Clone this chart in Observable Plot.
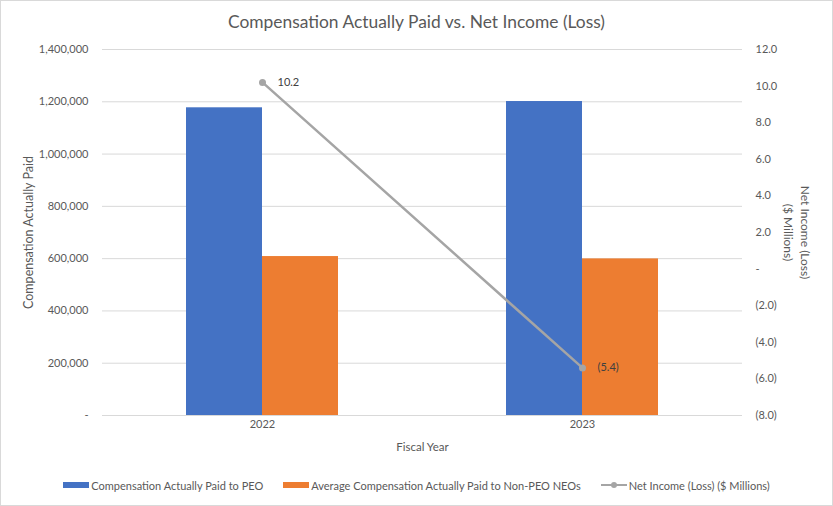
<!DOCTYPE html>
<html><head><meta charset="utf-8">
<script src="https://cdn.jsdelivr.net/npm/d3@7"></script>
<script src="https://cdn.jsdelivr.net/npm/@observablehq/plot@0.6"></script>
<style>
body{margin:0;background:#fff;}
#wrap{position:relative;width:833px;height:506px;font-family:Lato,sans-serif;color:#595959;overflow:hidden;background:#fff;}
#frame{position:absolute;left:0;top:0;width:833px;height:506px;box-sizing:border-box;border:1px solid #d9d9d9;pointer-events:none;}
#title{height:40px;line-height:44px;text-align:center;font-size:17.4px;}
#chart{height:430px;}
#chart svg{display:block;}
#legend{height:30px;display:flex;justify-content:center;align-items:center;gap:20px;font-size:11px;}
.item{display:flex;align-items:center;}
.sw{display:inline-block;width:26px;height:6px;margin-right:2px;}
.ln{position:relative;display:inline-block;width:26px;height:6px;margin-right:2px;}
.ln::before{content:"";position:absolute;left:0;right:0;top:2px;height:2px;background:#a5a5a5;}
.ln::after{content:"";position:absolute;left:10px;top:0;width:6px;height:6px;border-radius:50%;background:#a5a5a5;}
</style></head>
<body>
<div id="wrap">
  <div id="title">Compensation Actually Paid vs. Net Income (Loss)</div>
  <div id="chart"></div>
  <div id="legend"></div>
  <div id="frame"></div>
</div>
<script>
const years = ["2022", "2023"];
const peoComp = [1177000, 1201000];
const neoComp = [608000, 599000];
const netIncome = [10.2, -5.4];
const leftTicks = [0, 200000, 400000, 600000, 800000, 1000000, 1200000, 1400000];
const rightTicks = [-8, -6, -4, -2, 0, 2, 4, 6, 8, 10, 12];
const seriesNames = ["Compensation Actually Paid to PEO", "Average Compensation Actually Paid to Non-PEO NEOs", "Net Income (Loss) ($ Millions)"];
const colors = ["#4472c4", "#ed7d31", "#a5a5a5"];

const leftMax = leftTicks[leftTicks.length - 1];
const rMin = rightTicks[0], rMax = rightTicks[rightTicks.length - 1];
const toLeft = v => (v - rMin) / (rMax - rMin) * leftMax;
const fmtLeft = v => v === 0 ? "-" : d3.format(",")(v);
const fmtRight = v => v === 0 ? "-" : v < 0 ? `(${Math.abs(v).toFixed(1)})` : v.toFixed(1);
const rightByLeft = new Map(rightTicks.map(v => [Math.round(toLeft(v)), fmtRight(v)]));

const rows = years.map((y, i) => ({year: y, peo: peoComp[i], neo: neoComp[i], ni: netIncome[i]}));

const chart = Plot.plot({
  width: 833, height: 430,
  marginTop: 9, marginBottom: 55, marginLeft: 102, marginRight: 91,
  style: {fontFamily: "Lato, sans-serif", fontSize: "11px", color: "#595959", background: "transparent", overflow: "visible"},
  x: {type: "band", domain: years, padding: 0, label: null},
  y: {domain: [0, leftMax], label: null},
  marks: [
    Plot.ruleY(leftTicks, {stroke: "#d9d9d9", strokeWidth: 1}),
    Plot.barY(rows, {x: "year", y: "peo", fill: colors[0], insetLeft: 84, insetRight: 160}),
    Plot.barY(rows, {x: "year", y: "neo", fill: colors[1], insetLeft: 160, insetRight: 84}),
    Plot.line(rows, {x: "year", y: d => toLeft(d.ni), stroke: colors[2], strokeWidth: 2.5}),
    Plot.dot(rows, {x: "year", y: d => toLeft(d.ni), r: 3.5, fill: colors[2]}),
    Plot.text(rows, {x: "year", y: d => toLeft(d.ni), text: d => fmtRight(d.ni), textAnchor: "start", dx: 15, fill: "#404040", fontSize: 11}),
    Plot.axisY(leftTicks, {anchor: "left", tickSize: 0, tickPadding: 14, tickFormat: fmtLeft, label: null}),
    Plot.axisY(rightTicks.map(toLeft), {anchor: "right", tickSize: 0, tickPadding: 13, tickFormat: d => rightByLeft.get(Math.round(d)), label: null}),
    Plot.axisX({tickSize: 0, tickPadding: 5, label: null}),
    Plot.text(["Compensation Actually Paid"], {frameAnchor: "left", textAnchor: "middle", rotate: -90, dx: -74, fontSize: 12.5, letterSpacing: 0.3}),
    Plot.text(["Net Income (Loss)\n($ Millions)"], {frameAnchor: "right", textAnchor: "middle", rotate: 90, dx: 55, lineHeight: 1.4, fontSize: 12, letterSpacing: 0.3}),
    Plot.text(["Fiscal Year"], {frameAnchor: "bottom", dy: 35, fontSize: 11.5})
  ]
});
document.getElementById("chart").appendChild(chart);

const legend = document.getElementById("legend");
seriesNames.forEach((name, i) => {
  const item = document.createElement("div");
  item.className = "item";
  const sw = document.createElement("span");
  if (i < 2) { sw.className = "sw"; sw.style.background = colors[i]; }
  else { sw.className = "ln"; }
  item.appendChild(sw);
  const t = document.createElement("span");
  t.textContent = name;
  item.appendChild(t);
  legend.appendChild(item);
});
</script>
</body></html>
